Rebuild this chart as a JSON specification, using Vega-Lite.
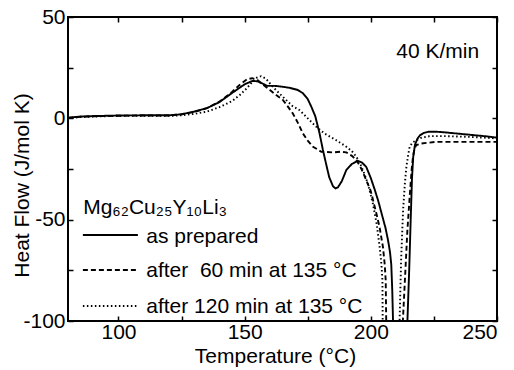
{
  "$schema": "https://vega.github.io/schema/vega-lite/v6.json",
  "width": 429,
  "height": 304,
  "autosize": {"type": "none"},
  "padding": {"left": 68, "top": 17, "right": 17, "bottom": 49},
  "background": "white",
  "config": {
    "view": {"stroke": "black", "strokeWidth": 2},
    "font": "Liberation Sans",
    "axis": {
      "domain": false,
      "grid": false,
      "tickColor": "black",
      "tickSize": -5,
      "tickWidth": 1.5,
      "labelColor": "black",
      "labelFont": "Liberation Sans",
      "labelFontSize": 21,
      "titleFont": "Liberation Sans",
      "titleFontSize": 21,
      "titleFontWeight": "normal",
      "titleColor": "black"
    }
  },
  "datasets": {
    "curves": [
      {"s": "A", "t": 80, "q": 0.3}, {"s": "A", "t": 85, "q": 0.9}, {"s": "A", "t": 90, "q": 1.1}, {"s": "A", "t": 100, "q": 1.4}, {"s": "A", "t": 110, "q": 1.5}, {"s": "A", "t": 120, "q": 1.5}, {"s": "A", "t": 125, "q": 2}, {"s": "A", "t": 130, "q": 3.3}, {"s": "A", "t": 135, "q": 5}, {"s": "A", "t": 140, "q": 8}, {"s": "A", "t": 145, "q": 12.5}, {"s": "A", "t": 150, "q": 16.8}, {"s": "A", "t": 153, "q": 18.4}, {"s": "A", "t": 155, "q": 18.3}, {"s": "A", "t": 157, "q": 17.2}, {"s": "A", "t": 159, "q": 16}, {"s": "A", "t": 162, "q": 16}, {"s": "A", "t": 165, "q": 15.6}, {"s": "A", "t": 168, "q": 15}, {"s": "A", "t": 171, "q": 14}, {"s": "A", "t": 173, "q": 12.5}, {"s": "A", "t": 175, "q": 9.5}, {"s": "A", "t": 176.5, "q": 5.5}, {"s": "A", "t": 178, "q": 1}, {"s": "A", "t": 179.7, "q": -7.5}, {"s": "A", "t": 181, "q": -15.5}, {"s": "A", "t": 182, "q": -21}, {"s": "A", "t": 183.5, "q": -29}, {"s": "A", "t": 185, "q": -33.5}, {"s": "A", "t": 186, "q": -34.6}, {"s": "A", "t": 187, "q": -34}, {"s": "A", "t": 188.5, "q": -31}, {"s": "A", "t": 190.3, "q": -25.5}, {"s": "A", "t": 192.5, "q": -22.5}, {"s": "A", "t": 194.8, "q": -21}, {"s": "A", "t": 196.5, "q": -21.8}, {"s": "A", "t": 198.2, "q": -24}, {"s": "A", "t": 200, "q": -29.5}, {"s": "A", "t": 201.5, "q": -35}, {"s": "A", "t": 203, "q": -41}, {"s": "A", "t": 204.5, "q": -48}, {"s": "A", "t": 205.8, "q": -54}, {"s": "A", "t": 206.8, "q": -60}, {"s": "A", "t": 207.6, "q": -66}, {"s": "A", "t": 208.1, "q": -72}, {"s": "A", "t": 208.5, "q": -85}, {"s": "A", "t": 208.8, "q": -100}, {"s": "A", "t": 209.1, "q": -115}, {"s": "A", "t": 214.3, "q": -115}, {"s": "A", "t": 214.5, "q": -100}, {"s": "A", "t": 215.2, "q": -75}, {"s": "A", "t": 215.8, "q": -50}, {"s": "A", "t": 216.3, "q": -30}, {"s": "A", "t": 216.8, "q": -19}, {"s": "A", "t": 217.5, "q": -13}, {"s": "A", "t": 218.5, "q": -10}, {"s": "A", "t": 219.5, "q": -8.3}, {"s": "A", "t": 221, "q": -7.2}, {"s": "A", "t": 223, "q": -6.6}, {"s": "A", "t": 226, "q": -6.6}, {"s": "A", "t": 230, "q": -7}, {"s": "A", "t": 235, "q": -7.6}, {"s": "A", "t": 240, "q": -8.2}, {"s": "A", "t": 245, "q": -8.8}, {"s": "A", "t": 250, "q": -9.5},
      {"s": "B", "t": 80, "q": 0.2}, {"s": "B", "t": 85, "q": 0.8}, {"s": "B", "t": 90, "q": 1}, {"s": "B", "t": 100, "q": 1.3}, {"s": "B", "t": 110, "q": 1.4}, {"s": "B", "t": 120, "q": 1.4}, {"s": "B", "t": 125, "q": 2}, {"s": "B", "t": 130, "q": 3.2}, {"s": "B", "t": 135, "q": 5}, {"s": "B", "t": 140, "q": 8.2}, {"s": "B", "t": 145, "q": 13}, {"s": "B", "t": 148, "q": 16.5}, {"s": "B", "t": 151, "q": 19.3}, {"s": "B", "t": 153, "q": 19.8}, {"s": "B", "t": 155, "q": 19}, {"s": "B", "t": 157.5, "q": 16.5}, {"s": "B", "t": 160, "q": 14}, {"s": "B", "t": 162.5, "q": 11.5}, {"s": "B", "t": 165.2, "q": 9}, {"s": "B", "t": 167, "q": 6}, {"s": "B", "t": 169.1, "q": 2.4}, {"s": "B", "t": 171, "q": -2}, {"s": "B", "t": 173.1, "q": -7.5}, {"s": "B", "t": 175, "q": -11}, {"s": "B", "t": 177.1, "q": -14}, {"s": "B", "t": 180.4, "q": -16.5}, {"s": "B", "t": 185, "q": -16.8}, {"s": "B", "t": 188, "q": -16.5}, {"s": "B", "t": 190.3, "q": -16.8}, {"s": "B", "t": 192.5, "q": -18.5}, {"s": "B", "t": 194.3, "q": -20.6}, {"s": "B", "t": 196.3, "q": -25}, {"s": "B", "t": 198.2, "q": -30.5}, {"s": "B", "t": 200, "q": -36}, {"s": "B", "t": 202.2, "q": -46.9}, {"s": "B", "t": 203.5, "q": -54}, {"s": "B", "t": 204.8, "q": -63.4}, {"s": "B", "t": 205.5, "q": -72}, {"s": "B", "t": 205.9, "q": -80}, {"s": "B", "t": 206.1, "q": -100}, {"s": "B", "t": 206.4, "q": -115}, {"s": "B", "t": 212.4, "q": -115}, {"s": "B", "t": 212.7, "q": -100}, {"s": "B", "t": 213.5, "q": -80}, {"s": "B", "t": 214.5, "q": -55}, {"s": "B", "t": 215.4, "q": -38.7}, {"s": "B", "t": 216.2, "q": -25}, {"s": "B", "t": 216.7, "q": -19}, {"s": "B", "t": 217.3, "q": -15}, {"s": "B", "t": 218, "q": -13.2}, {"s": "B", "t": 220, "q": -12.4}, {"s": "B", "t": 223, "q": -12}, {"s": "B", "t": 226, "q": -11.6}, {"s": "B", "t": 235, "q": -11.6}, {"s": "B", "t": 250, "q": -11.6},
      {"s": "C", "t": 80, "q": 0.1}, {"s": "C", "t": 85, "q": 0.6}, {"s": "C", "t": 90, "q": 0.9}, {"s": "C", "t": 100, "q": 1.2}, {"s": "C", "t": 110, "q": 1.2}, {"s": "C", "t": 120, "q": 1.2}, {"s": "C", "t": 125, "q": 1.5}, {"s": "C", "t": 130, "q": 2.2}, {"s": "C", "t": 135, "q": 3.3}, {"s": "C", "t": 140, "q": 5.5}, {"s": "C", "t": 145, "q": 8.5}, {"s": "C", "t": 148, "q": 11.4}, {"s": "C", "t": 151, "q": 15}, {"s": "C", "t": 153, "q": 18}, {"s": "C", "t": 155, "q": 20.2}, {"s": "C", "t": 156.5, "q": 20.8}, {"s": "C", "t": 158.5, "q": 19.5}, {"s": "C", "t": 161.2, "q": 15.5}, {"s": "C", "t": 164, "q": 12}, {"s": "C", "t": 166.5, "q": 9}, {"s": "C", "t": 169, "q": 6}, {"s": "C", "t": 171.8, "q": 4}, {"s": "C", "t": 175, "q": 0}, {"s": "C", "t": 178.4, "q": -4.2}, {"s": "C", "t": 181.7, "q": -7.5}, {"s": "C", "t": 186.3, "q": -10.8}, {"s": "C", "t": 190.3, "q": -14}, {"s": "C", "t": 192.5, "q": -16.2}, {"s": "C", "t": 194.3, "q": -19}, {"s": "C", "t": 196, "q": -23}, {"s": "C", "t": 197.5, "q": -27.5}, {"s": "C", "t": 199, "q": -33}, {"s": "C", "t": 200.8, "q": -42}, {"s": "C", "t": 202.3, "q": -52}, {"s": "C", "t": 203.5, "q": -63.4}, {"s": "C", "t": 204.2, "q": -72}, {"s": "C", "t": 204.6, "q": -80}, {"s": "C", "t": 204.7, "q": -100}, {"s": "C", "t": 205, "q": -115}, {"s": "C", "t": 211.1, "q": -115}, {"s": "C", "t": 211.4, "q": -100}, {"s": "C", "t": 212, "q": -70}, {"s": "C", "t": 212.8, "q": -45}, {"s": "C", "t": 213.5, "q": -32}, {"s": "C", "t": 214.1, "q": -23.9}, {"s": "C", "t": 214.8, "q": -18}, {"s": "C", "t": 215.4, "q": -14}, {"s": "C", "t": 216.5, "q": -12}, {"s": "C", "t": 218, "q": -10.8}, {"s": "C", "t": 220, "q": -9.6}, {"s": "C", "t": 223.3, "q": -8.8}, {"s": "C", "t": 230, "q": -8.8}, {"s": "C", "t": 240, "q": -9.2}, {"s": "C", "t": 250, "q": -9.9}
    ],
    "legendLines": [
      {"s": "A", "t": 85.9, "q": -57.6}, {"s": "A", "t": 107.7, "q": -57.6},
      {"s": "B", "t": 85.9, "q": -74.8}, {"s": "B", "t": 107.7, "q": -74.8},
      {"s": "C", "t": 85.9, "q": -92.6}, {"s": "C", "t": 107.7, "q": -92.6}
    ],
    "labels": [
      {"t": 86, "q": -47, "label": "Mg₆₂Cu₂₅Y₁₀Li₃"},
      {"t": 111, "q": -61.4, "label": "as prepared"},
      {"t": 111, "q": -78.5, "label": "after\u00a0\u00a060 min at 135 °C"},
      {"t": 111, "q": -96.2, "label": "after 120 min at 135 °C"},
      {"t": 210.1, "q": 30, "label": "40 K/min"}
    ]
  },
  "encoding": {
    "x": {"field": "t", "type": "quantitative", "scale": {"domain": [80, 250], "nice": false, "zero": false}},
    "y": {"field": "q", "type": "quantitative", "scale": {"domain": [-100, 50], "nice": false, "zero": false}}
  },
  "layer": [
    {
      "data": {"name": "curves"},
      "mark": {"type": "line", "color": "black", "strokeWidth": 1.9, "clip": true},
      "encoding": {
        "x": {"field": "t", "type": "quantitative", "axis": {"title": "Temperature (°C)", "values": [100, 125, 150, 175, 200, 225, 250], "labelExpr": "datum.value % 50 == 0 ? datum.label : ''", "labelPadding": 5, "titleX": 207, "titleY": 41, "titleBaseline": "alphabetic", "titleAlign": "center"}},
        "y": {"field": "q", "type": "quantitative", "axis": {"title": "Heat Flow (J/mol K)", "values": [-100, -75, -50, -25, 0, 25, 50], "labelExpr": "datum.value % 50 == 0 ? '' + datum.value : ''", "labelPadding": 8, "titleX": -40, "titleY": 168, "titleAngle": 270, "titleBaseline": "alphabetic", "titleAlign": "center"}},
        "strokeDash": {"field": "s", "type": "nominal", "scale": {"domain": ["A", "B", "C"], "range": [[1, 0], [5, 3], [1.5, 2.5]]}, "legend": null},
        "detail": {"field": "s"}
      }
    },
    {
      "data": {"name": "legendLines"},
      "mark": {"type": "line", "color": "black", "strokeWidth": 1.9},
      "encoding": {
        "x": {"field": "t", "type": "quantitative", "axis": null},
        "y": {"field": "q", "type": "quantitative", "axis": null},
        "strokeDash": {"field": "s", "type": "nominal", "scale": {"domain": ["A", "B", "C"], "range": [[1, 0], [5, 3], [1.5, 2.5]]}, "legend": null},
        "detail": {"field": "s"}
      }
    },
    {
      "data": {"name": "labels"},
      "mark": {"type": "text", "align": "left", "baseline": "alphabetic", "fontSize": 21, "font": "Liberation Sans", "color": "black"},
      "encoding": {
        "x": {"field": "t", "type": "quantitative", "axis": {"orient": "top", "title": null, "labels": false, "values": [100, 125, 150, 175, 200, 225, 250]}},
        "y": {"field": "q", "type": "quantitative", "axis": {"orient": "right", "title": null, "labels": false, "values": [-100, -75, -50, -25, 0, 25, 50]}},
        "text": {"field": "label"}
      }
    }
  ],
  "resolve": {"axis": {"x": "independent", "y": "independent"}}
}
